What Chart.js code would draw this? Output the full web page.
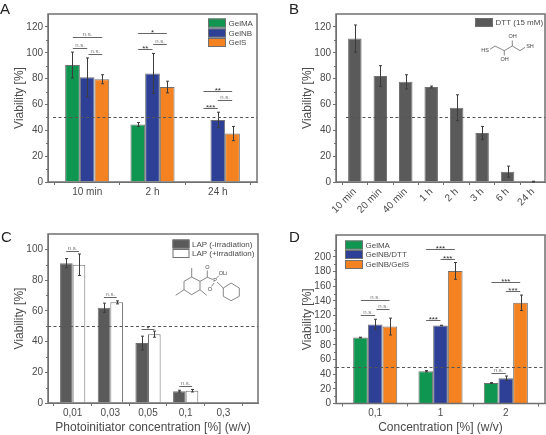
<!DOCTYPE html>
<html>
<head>
<meta charset="utf-8">
<title>Viability panels</title>
<script src="https://cdn.jsdelivr.net/npm/chart.js@4"></script>
<style>
    html, body { margin: 0; padding: 0; background: #fff; }
    body { position: relative; width: 546px; height: 435px; overflow: hidden; }
    .panel { position: absolute; }
    canvas { display: block; }
</style>
</head>
<body>
<div class="panel" style="left:0;top:0;width:273px;height:218px"><canvas id="chartA"></canvas></div>
<div class="panel" style="left:273px;top:0;width:273px;height:218px"><canvas id="chartB"></canvas></div>
<div class="panel" style="left:0;top:218px;width:273px;height:217px"><canvas id="chartC"></canvas></div>
<div class="panel" style="left:273px;top:218px;width:273px;height:217px"><canvas id="chartD"></canvas></div>
<script>
// Panel A
const labelsA = ['10 min', '2 h', '24 h'];
const gelmaA = [90.5, 44.5, null];
const gelnbA = [81, 84, 48];
const gelsA = [79.5, 73.5, 37.5];
const gelmaErrA = [10, 1.5, 0];
const gelnbErrA = [15, 15.5, 6];
const gelsErrA = [3.5, 4.5, 5.5];
// [from group position, to group position, height, label]
const sigA = [
    [0.78, 1.23, 112, 'n.s.'], [0.78, 1.0, 104, 'n.s.'], [1.02, 1.23, 99, 'n.s.'],
    [1.78, 2.22, 115, '*'], [1.78, 2.0, 103, '**'], [2.01, 2.22, 107, 'n.s.'],
    [2.78, 3.22, 70.5, '**'], [2.78, 3.0, 57, '***'], [3.0, 3.22, 63.5, 'n.s.']
];

// Panel B
const labelsB = ['10 min', '20 min', '40 min', '1 h', '2 h', '3 h', '6 h', '24 h'];
const dtt = [111, 82, 77.5, 73.5, 57.5, 38, 8, 0.3];
const dttErr = [10.5, 8, 5.5, 0.7, 10, 5, 4.3, 0.3];

// Panel C
const labelsC = ['0,01', '0,03', '0,05', '0,1', '0,3'];
const lapDark = [91, 62, 39, 7.7, null];
const lapLight = [90, 65.5, 44.8, 8, null];
const lapDarkErr = [3, 3, 4.5, 0.6, 0];
const lapLightErr = [7, 1, 2, 0.8, 0];
const sigC = [
    [0.83, 1.17, 99, 'n.s.'], [1.83, 2.17, 69, 'n.s.'],
    [2.83, 3.17, 48, '*'], [3.83, 4.17, 11, 'n.s.']
];

// Panel D
const labelsD = ['0,1', '1', '2'];
const gelmaD = [90, 44, 28];
const dttD = [108, 106.5, 34.5];
const gelsD = [105, 181, 137.5];
const gelmaErrD = [0.5, 1, 0.5];
const dttErrD = [7, 0.3, 3];
const gelsErrD = [11.5, 11.5, 10.5];
const sigD = [
    [0.78, 1.22, 141, 'n.s.'], [0.78, 1.0, 121, 'n.s.'], [1.02, 1.22, 129, 'n.s.'],
    [1.78, 2.22, 211, '***'], [2.0, 2.22, 197, '***'], [1.78, 2.0, 114, '***'],
    [2.78, 3.22, 166, '***'], [3.0, 3.22, 154, '***'], [2.78, 3.0, 42, 'n.s.']
];

const viabilityLine = 50;
const FONT = '"Liberation Sans", Arial, sans-serif';
const TEXT = '#4a4a4a';
const FRAME = '#707070';
const GREEN = '#0f9650';
const BLUE = '#2e4096';
const ORANGE = '#f58220';
const DARK = '#5a5a5a';

// Draws error bars, the 50 % line, frame, minor ticks and brackets on top of the bars
const overlay = {
    id: 'overlay',
    afterDraw(chart, args, opts) {
        const ctx = chart.ctx;
        const area = chart.chartArea;
        const xs = chart.scales.x;
        const ys = chart.scales.y;
        ctx.save();

        // frame
        ctx.strokeStyle = FRAME;
        ctx.lineWidth = 1.5;
        ctx.strokeRect(area.left, area.top, area.width, area.height);

        // minor ticks
        ctx.lineWidth = 1;
        ctx.beginPath();
        for (let v = opts.minor; v < ys.max; v += opts.major) {
            const y = Math.round(ys.getPixelForValue(v)) + 0.5;
            ctx.moveTo(area.left, y);
            ctx.lineTo(area.left - 2, y);
        }
        ctx.stroke();

        // error bars
        ctx.strokeStyle = '#3c3c3c';
        opts.errors.forEach((errs, i) => {
            const meta = chart.getDatasetMeta(i);
            errs.forEach((err, j) => {
                const bar = meta.data[j];
                const value = chart.data.datasets[i].data[j].y;
                if (!err || value === null) return;
                const x = Math.round(bar.x) + 0.5;
                const top = ys.getPixelForValue(value + err);
                const bottom = ys.getPixelForValue(value - err);
                ctx.beginPath();
                ctx.moveTo(x, top);
                ctx.lineTo(x, bottom);
                ctx.moveTo(x - 1.5, top);
                ctx.lineTo(x + 1.5, top);
                ctx.moveTo(x - 1.5, bottom);
                ctx.lineTo(x + 1.5, bottom);
                ctx.stroke();
            });
        });

        // dashed line at 50 %
        const lineY = Math.round(ys.getPixelForValue(viabilityLine)) + 0.5;
        ctx.strokeStyle = '#555';
        ctx.setLineDash([3, 2.5]);
        ctx.beginPath();
        ctx.moveTo(area.left + opts.dashStart, lineY);
        ctx.lineTo(area.right, lineY);
        ctx.stroke();
        ctx.setLineDash([]);

        // significance brackets
        ctx.textAlign = 'center';
        (opts.sig || []).forEach(([from, to, h, label]) => {
            const y = Math.round(ys.getPixelForValue(h)) + 0.5;
            const x1 = xs.getPixelForValue(from);
            const x2 = xs.getPixelForValue(to);
            ctx.strokeStyle = '#666';
            ctx.beginPath();
            ctx.moveTo(x1, y);
            ctx.lineTo(x2, y);
            ctx.stroke();
            const stars = label !== 'n.s.';
            ctx.fillStyle = stars ? '#333' : '#777';
            ctx.font = (stars ? 8 : 6) + 'px ' + FONT;
            ctx.textBaseline = stars ? 'middle' : 'alphabetic';
            ctx.fillText(label, (x1 + x2) / 2, stars ? y - 1 : y - 1.5);
        });

        // legend
        (opts.legend || []).forEach(item => {
            ctx.fillStyle = item.color;
            ctx.strokeStyle = FRAME;
            ctx.fillRect(item.x, item.y, item.w, 9);
            ctx.strokeRect(item.x + 0.5, item.y + 0.5, item.w - 1, 8);
            ctx.fillStyle = TEXT;
            ctx.font = '8px ' + FONT;
            ctx.textAlign = 'left';
            ctx.textBaseline = 'middle';
            ctx.fillText(item.text, item.x + item.w + 2.5, item.y + 5);
        });

        // panel letter
        ctx.fillStyle = '#222';
        ctx.font = '15px ' + FONT;
        ctx.textAlign = 'left';
        ctx.textBaseline = 'alphabetic';
        ctx.fillText(opts.letter[0], opts.letter[1], opts.letter[2]);

        if (opts.molecule) opts.molecule(ctx);
        ctx.restore();
    }
};

function bond(ctx, pts) {
    ctx.beginPath();
    pts.forEach((p, i) => i ? ctx.lineTo(p[0], p[1]) : ctx.moveTo(p[0], p[1]));
    ctx.stroke();
}

function moleculeStyle(ctx) {
    ctx.strokeStyle = '#555';
    ctx.fillStyle = '#444';
    ctx.lineWidth = 0.7;
    ctx.font = '5.5px ' + FONT;
    ctx.textAlign = 'center';
    ctx.textBaseline = 'middle';
}

function drawDtt(ctx) {
    moleculeStyle(ctx);
    bond(ctx, [[217, 49.3], [222, 46], [231.3, 50.7], [239.3, 46], [247, 50.7], [252, 47.3]]);
    bond(ctx, [[231.3, 50.7], [231.3, 55.5]]);
    bond(ctx, [[239.3, 46], [239.3, 40.5]]);
    ctx.fillText('HS', 212, 50.7);
    ctx.fillText('SH', 257, 46);
    ctx.fillText('OH', 231.5, 59.3);
    ctx.fillText('OH', 239.5, 36.7);
}

function drawLap(ctx) {
    moleculeStyle(ctx);
    // mesityl ring
    bond(ctx, [[191.7, 59], [200, 63.3], [200, 71.7], [191.7, 76.7], [184, 71.7], [184, 63.3], [191.7, 59]]);
    bond(ctx, [[191.7, 59], [191.7, 50]]);
    bond(ctx, [[200, 71.7], [206.7, 77.3]]);
    bond(ctx, [[184, 71.7], [175.7, 77.3]]);
    // carbonyl and phosphorus
    bond(ctx, [[200, 63.3], [207.3, 59.3], [213, 61.5]]);
    bond(ctx, [[207.3, 59.3], [207.3, 52.5]]);
    bond(ctx, [[214, 65], [211.5, 68.5]]);
    bond(ctx, [[216.5, 60], [219, 57.5]]);
    bond(ctx, [[217, 64], [223.3, 70]]);
    // phenyl ring
    bond(ctx, [[223.3, 70], [231, 65], [239.3, 70], [239.3, 78.3], [231, 82.7], [223.3, 78.3], [223.3, 70]]);
    ctx.fillText('O', 207.3, 49.3);
    ctx.fillText('P', 215, 62.3);
    ctx.fillText('O', 210, 71.3);
    ctx.fillText('OLi', 223, 55);
}

function makeChart(id, cfg) {
    const points = arr => arr.map((y, i) => ({ x: i + 1, y: y }));
    return new Chart(document.getElementById(id), {
        type: 'bar',
        data: {
            labels: cfg.labels,
            datasets: cfg.series.map(s => ({
                label: s.label,
                data: points(s.values),
                backgroundColor: s.color,
                borderColor: FRAME,
                borderWidth: 1,
                categoryPercentage: cfg.groupWidth,
                barPercentage: 1
            }))
        },
        options: {
            responsive: true,
            maintainAspectRatio: false,
            animation: false,
            events: [],
            layout: { padding: cfg.padding },
            plugins: {
                legend: { display: false },
                tooltip: { enabled: false },
                overlay: {
                    errors: cfg.errors,
                    sig: cfg.sig,
                    legend: cfg.legend,
                    letter: cfg.letter,
                    minor: cfg.step / 2,
                    major: cfg.step,
                    dashStart: cfg.dashStart || 0,
                    molecule: cfg.molecule
                }
            },
            scales: {
                x: {
                    type: 'linear',
                    offset: false,
                    min: cfg.xMin,
                    max: cfg.xMax,
                    grid: { display: true, drawOnChartArea: false, tickLength: 3, tickColor: FRAME },
                    border: { color: FRAME },
                    afterBuildTicks: s => { s.ticks = cfg.labels.map((l, i) => ({ value: i + 1 })); },
                    afterFit: s => { s.height = cfg.xHeight; },
                    ticks: {
                        autoSkip: false,
                        color: TEXT,
                        font: { family: FONT, size: 10 },
                        maxRotation: cfg.rotate || 0,
                        minRotation: cfg.rotate || 0,
                        padding: 1,
                        callback: v => cfg.labels[v - 1]
                    },
                    title: {
                        display: !!cfg.xTitle,
                        text: cfg.xTitle,
                        color: TEXT,
                        font: { family: FONT, size: 12 },
                        padding: { top: 3, bottom: 0 }
                    }
                },
                y: {
                    min: 0,
                    max: cfg.yMax,
                    grid: { display: true, drawOnChartArea: false, tickLength: 3, tickColor: FRAME },
                    border: { color: FRAME },
                    afterFit: s => { s.width = cfg.yWidth; },
                    afterBuildTicks: s => { s.ticks = s.ticks.filter(t => t.value <= cfg.yTop); },
                    ticks: {
                        stepSize: cfg.step,
                        autoSkip: false,
                        color: TEXT,
                        font: { family: FONT, size: 10 },
                        padding: 2
                    },
                    title: {
                        display: true,
                        text: 'Viability [%]',
                        color: TEXT,
                        font: { family: FONT, size: 12 },
                        padding: { top: 0, bottom: 2 }
                    }
                }
            }
        },
        plugins: [overlay]
    });
}

makeChart('chartA', {
    labels: labelsA,
    series: [
        { label: 'GelMA', values: gelmaA, color: GREEN },
        { label: 'GelNB', values: gelnbA, color: BLUE },
        { label: 'GelS', values: gelsA, color: ORANGE }
    ],
    errors: [gelmaErrA, gelnbErrA, gelsErrA],
    sig: sigA,
    legend: [
        { text: 'GelMA', color: GREEN, x: 208, y: 18.5, w: 18 },
        { text: 'GelNB', color: BLUE, x: 208, y: 28.5, w: 18 },
        { text: 'GelS', color: ORANGE, x: 208, y: 38, w: 18 }
    ],
    letter: ['A', 0, 14],
    padding: { left: 12, top: 14, right: 16, bottom: 0 },
    yWidth: 36, xHeight: 36,
    xMin: 0.4, xMax: 3.6, yMax: 130, yTop: 120, step: 20,
    groupWidth: 0.675, dashStart: 5
});

makeChart('chartB', {
    labels: labelsB,
    series: [{ label: 'DTT (15 mM)', values: dtt, color: DARK }],
    errors: [dttErr],
    legend: [{ text: 'DTT (15 mM)', color: DARK, x: 202, y: 18, w: 18 }],
    letter: ['B', 16, 14],
    padding: { left: 27, top: 14, right: 1, bottom: 0 },
    yWidth: 36, xHeight: 36,
    xMin: 0.26, xMax: 8.47, yMax: 130, yTop: 120, step: 20,
    groupWidth: 0.53, dashStart: 10, rotate: 45,
    molecule: drawDtt
});

makeChart('chartC', {
    labels: labelsC,
    series: [
        { label: 'LAP (-irradiation)', values: lapDark, color: DARK },
        { label: 'LAP (+irradiation)', values: lapLight, color: '#ffffff' }
    ],
    errors: [lapDarkErr, lapLightErr],
    sig: sigC,
    legend: [
        { text: 'LAP (-irradiation)', color: DARK, x: 172.5, y: 21.5, w: 17 },
        { text: 'LAP (+irradiation)', color: '#ffffff', x: 172.5, y: 31, w: 17 }
    ],
    letter: ['C', 1, 24],
    padding: { left: 12, top: 16, right: 15, bottom: 0 },
    yWidth: 36, xHeight: 32,
    xMin: 0.345, xMax: 5.92, yMax: 110, yTop: 100, step: 20,
    groupWidth: 0.67,
    xTitle: 'Photoinitiator concentration [%] (w/v)',
    molecule: drawLap
});

makeChart('chartD', {
    labels: labelsD,
    series: [
        { label: 'GelMA', values: gelmaD, color: GREEN },
        { label: 'GelNB/DTT', values: dttD, color: BLUE },
        { label: 'GelNB/GelS', values: gelsD, color: ORANGE }
    ],
    errors: [gelmaErrD, dttErrD, gelsErrD],
    sig: sigD,
    legend: [
        { text: 'GelMA', color: GREEN, x: 72, y: 22.5, w: 18 },
        { text: 'GelNB/DTT', color: BLUE, x: 72, y: 32, w: 18 },
        { text: 'GelNB/GelS', color: ORANGE, x: 72, y: 42, w: 18 }
    ],
    letter: ['D', 16, 24],
    padding: { left: 27, top: 17, right: 1, bottom: 0 },
    yWidth: 36, xHeight: 31.5,
    xMin: 0.4, xMax: 3.6, yMax: 230, yTop: 220, step: 20,
    groupWidth: 0.675,
    xTitle: 'Concentration [%] (w/v)'
});
</script>
</body>
</html>
